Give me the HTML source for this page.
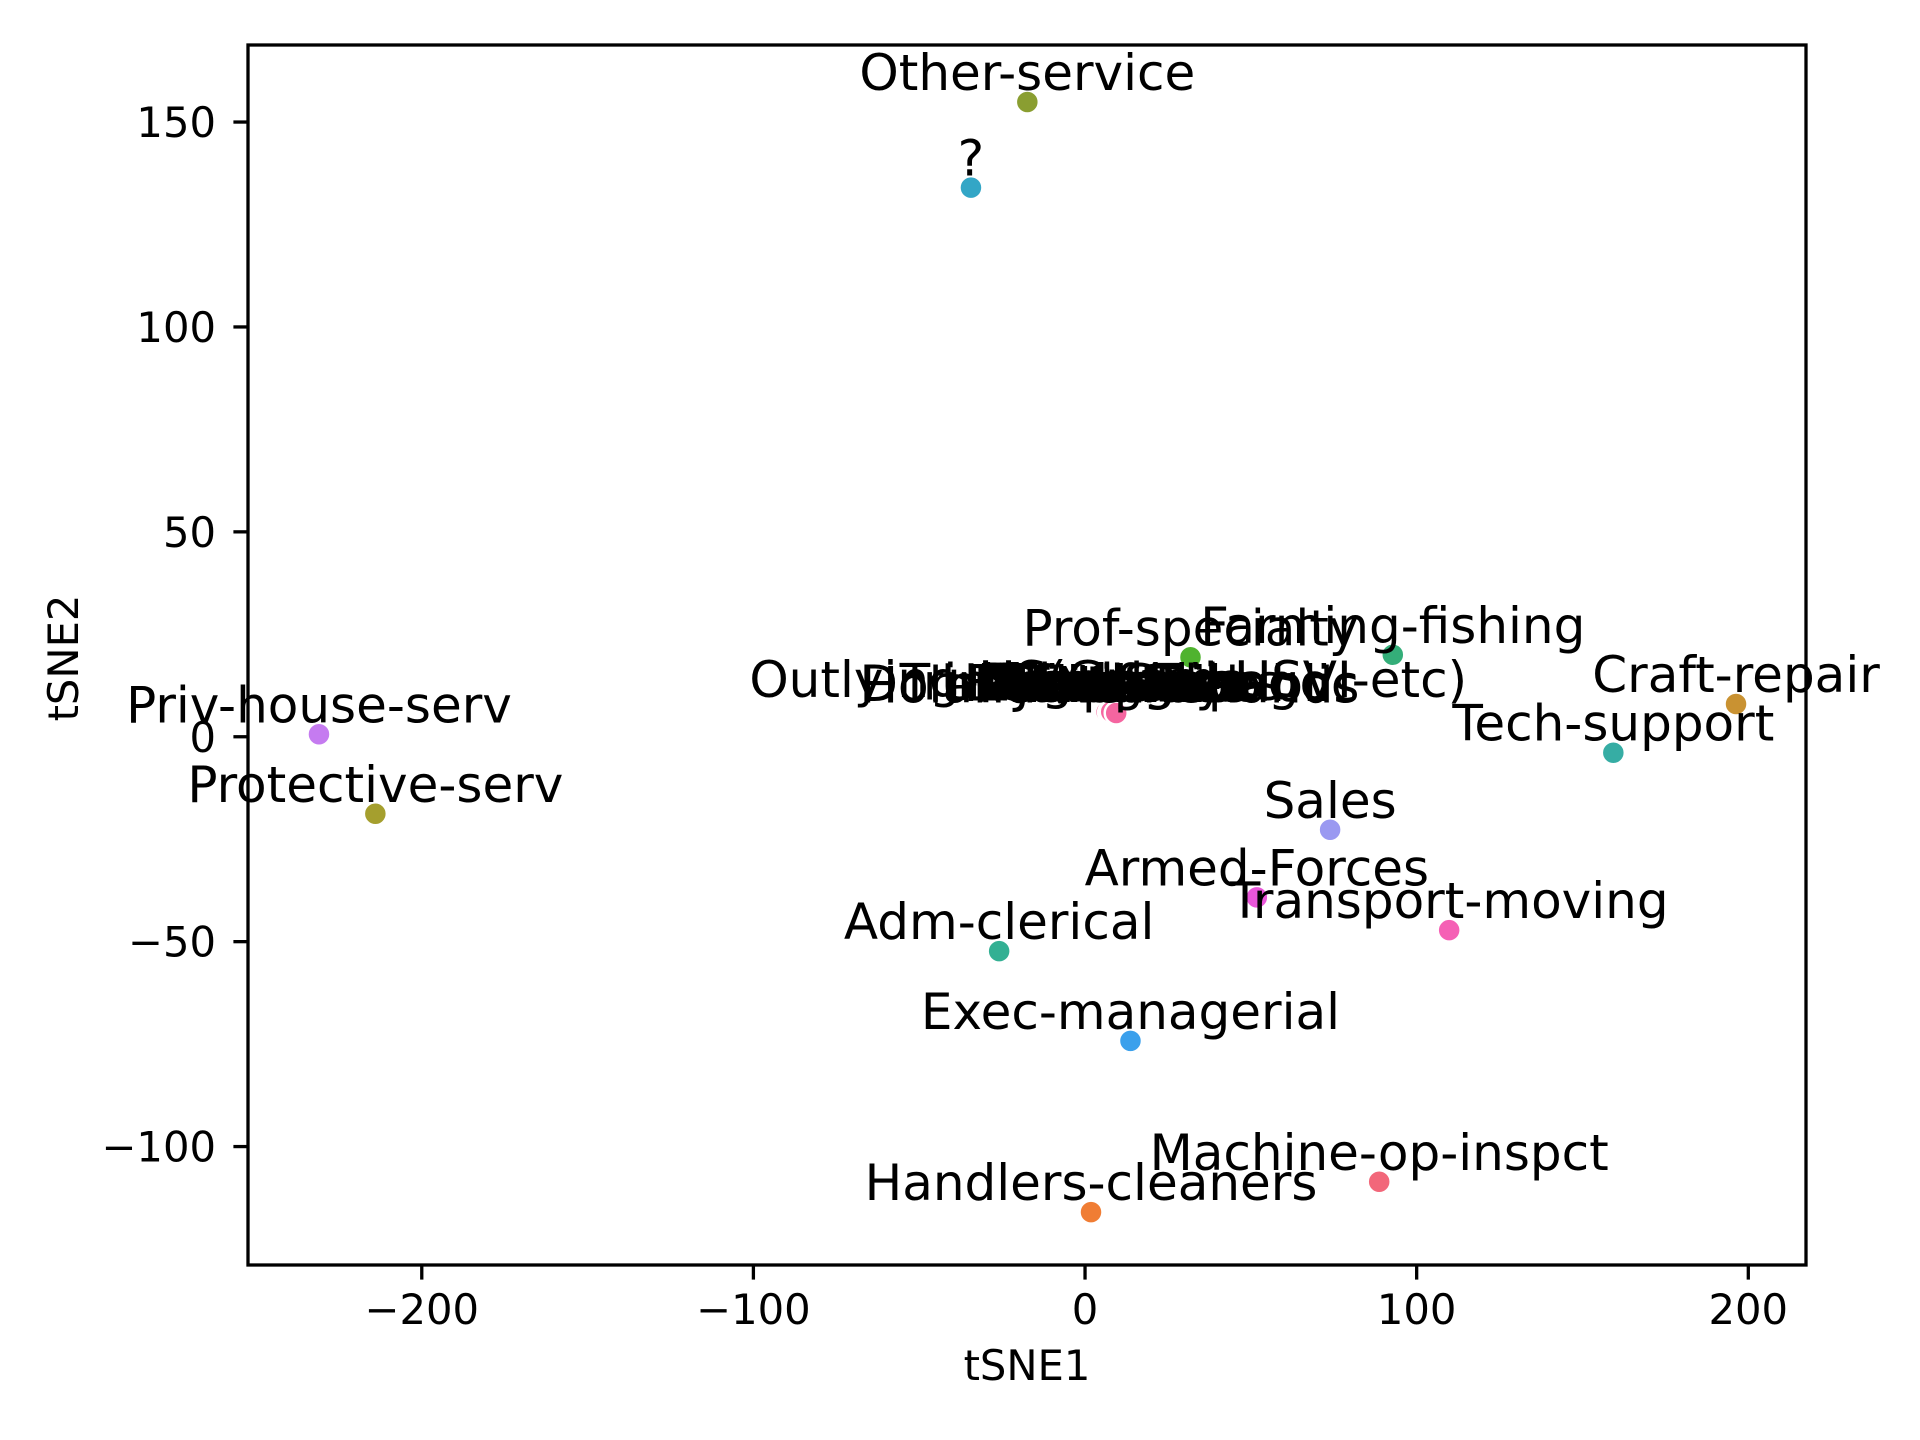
<!DOCTYPE html>
<html><head><meta charset="utf-8"><style>
html,body{margin:0;padding:0;background:#fff}
svg{display:block;font-family:"DejaVu Sans","Liberation Sans",sans-serif}
</style></head><body>
<svg id="chart" width="1920" height="1440" viewBox="0 0 1920 1440" xmlns="http://www.w3.org/2000/svg">
<rect width="1920" height="1440" fill="#fff"/>
<g id="marks"></g>
<g id="labels"></g>
<g id="axes"></g>
</svg>
<script>
const labels = ["Other-service","?","Priv-house-serv","Protective-serv","Prof-specialty","Farming-fishing","Craft-repair","Tech-support","Sales","Armed-Forces","Transport-moving","Adm-clerical","Exec-managerial","Machine-op-inspct","Handlers-cleaners"];
const xs = [-17.4,-34.4,-231,-214,31.8,92.8,196.3,159.3,73.9,51.8,109.8,-25.9,13.7,88.7,1.8];
const ys = [154.9,134,0.6,-18.8,19.4,20,8,-3.9,-22.7,-39.2,-47.2,-52.3,-74.2,-108.6,-116];
const colors = ["#8a9e31","#33a6c6","#c57bf0","#a59f2e","#4fb32f","#34ae79","#c99232","#36ada4","#9a99f1","#e956d9","#f560b5","#33b093","#3aa0ec","#f2677a","#f07d34"];
const clusterLabels = ["Outlying-US(Guam-USVI-etc)","Holand-Netherlands","Dominican-Republic","United-States","Trinadad&Tobago","Philippines","Yugoslavia","El-Salvador","Guatemala","Puerto-Rico","Nicaragua","Columbia","Cambodia","Thailand","Portugal","Scotland","Hungary","Jamaica","Ecuador","Vietnam"];
const clusterX = [7.0,7.5,7.2,8.0,9.0,8.5,9.5,6.8,8.2,9.8,7.8,10.2,6.5,8.8,9.2,7.4,10.0,8.6,7.9,9.4];
const clusterY = [6.8,5.4,5.8,6.0,6.2,5.6,6.4,5.9,6.1,5.7,6.3,5.5,6.0,5.8,6.2,5.9,6.0,5.6,6.1,5.8];
const clusterColors = ["#f569a0","#f565a5","#f766a0","#f36498","#f4679e","#f565a2","#f06aa0","#f566a0","#f565a0","#f26c9a","#f565a0","#f565a0","#f5669c","#f565a0","#f565a0","#f566a4","#f565a0","#f565a0","#f565a0","#f565a0"];
const xTicks = [-200,-100,0,100,200];
const yTicks = [-100,-50,0,50,100,150];

const L=248,R=1806,T=45,B=1265;
const xMin=-252.4,xMax=217.4,yMin=-128.9,yMax=168.8;
function sx(v){return L+(v-xMin)/(xMax-xMin)*(R-L);}
function sy(v){return B-(v-yMin)/(yMax-yMin)*(B-T);}
const NS="http://www.w3.org/2000/svg";
function mk(tag,attrs,parent){const e=document.createElementNS(NS,tag);for(const k in attrs)e.setAttribute(k,attrs[k]);parent.appendChild(e);return e;}
const gM=document.getElementById('marks'),gL=document.getElementById('labels'),gA=document.getElementById('axes');

function addPoint(x,y,c,name,lbl){
  const p=mk('circle',{cx:sx(x),cy:sy(y),r:11.5,fill:c,stroke:'#fff','stroke-width':2.5},gM);
  
  
  const t=mk('text',{x:sx(x),y:sy(y)-12,'font-size':50,'text-anchor':'middle',fill:'#000'},gL);
  t.textContent=lbl;
  
  
}
function slug(s){return s.toLowerCase().replace(/[^a-z0-9]+/g,'-').replace(/^-|-$/g,'')||'unknown';}
for(let i=0;i<clusterLabels.length;i++) addPoint(clusterX[i],clusterY[i],clusterColors[i],slug(clusterLabels[i]),clusterLabels[i]);
for(let i=0;i<labels.length;i++) addPoint(xs[i],ys[i],colors[i],slug(labels[i]),labels[i]);

const frame=mk('rect',{x:L,y:T,width:R-L,height:B-T,fill:'none',stroke:'#000','stroke-width':3.3},gA);


xTicks.forEach(v=>{
  const x=sx(v);
  const tk=mk('line',{x1:x,x2:x,y1:B,y2:B+14.6,stroke:'#000','stroke-width':3.3},gA);
  
  
  const t=mk('text',{x:x,y:1324,'font-size':41.7,'text-anchor':'middle'},gA);
  t.textContent=v<0?'\u2212'+(-v):String(v);
  
  
});
yTicks.forEach(v=>{
  const y=sy(v);
  const tk=mk('line',{x1:L-14.6,x2:L,y1:y,y2:y,stroke:'#000','stroke-width':3.3},gA);
  
  
  const t=mk('text',{x:216,y:y+15,'font-size':41.7,'text-anchor':'end'},gA);
  t.textContent=v<0?'\u2212'+(-v):String(v);
  
  
});
const xt=mk('text',{x:(L+R)/2,y:1380,'font-size':41.7,'text-anchor':'middle'},gA);
xt.textContent='tSNE1';


const yt=mk('text',{x:0,y:0,'font-size':41.7,'text-anchor':'middle',transform:'translate(78,658) rotate(-90)'},gA);
yt.textContent='tSNE2';


</script>
</body></html>
